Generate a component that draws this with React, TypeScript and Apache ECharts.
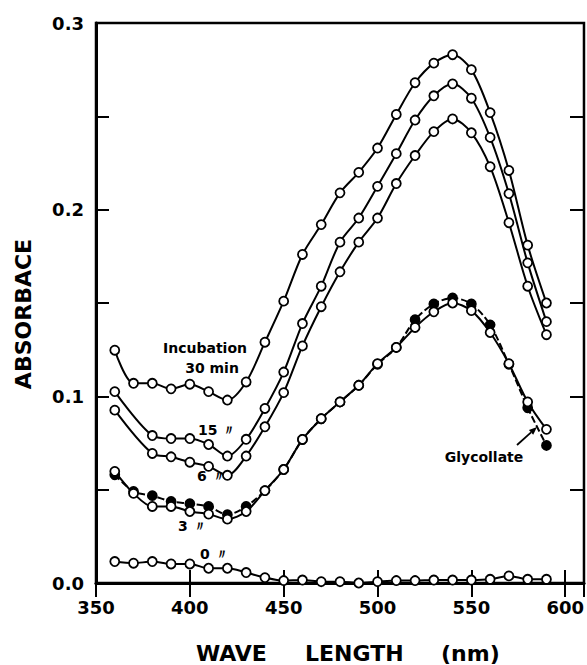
import React, { useEffect, useRef } from 'react';
import * as echarts from 'echarts';

const wavelengths = [360, 370, 380, 390, 400, 410, 420, 430, 440, 450, 460, 470, 480, 490, 500, 510, 520, 530, 540, 550, 560, 570, 580, 590];

const incubation30 = [0.1247, 0.107, 0.107, 0.104, 0.1065, 0.1025, 0.098, 0.1077, 0.129, 0.151, 0.176, 0.192, 0.209, 0.22, 0.233, 0.251, 0.268, 0.2785, 0.283, 0.275, 0.252, 0.221, 0.181, 0.15];
const incubation15 = [0.1025, null, 0.079, 0.0774, 0.0774, 0.0742, 0.068, 0.077, 0.0935, 0.113, 0.139, 0.159, 0.1826, 0.1955, 0.2125, 0.23, 0.248, 0.261, 0.2674, 0.2597, 0.2387, 0.2086, 0.1715, 0.14];
const incubation6 = [0.0926, null, 0.0694, 0.0676, 0.0647, 0.0625, 0.0577, 0.068, 0.0837, 0.102, 0.127, 0.148, 0.1667, 0.1826, 0.1955, 0.214, 0.229, 0.2418, 0.2486, 0.2412, 0.223, 0.193, 0.159, 0.133];
const incubation3 = [0.0598, 0.048, 0.041, 0.041, 0.0383, 0.0369, 0.0342, 0.0383, 0.0495, 0.0608, 0.0769, 0.088, 0.097, 0.1059, 0.1175, 0.1262, 0.1369, 0.1453, 0.15, 0.1459, 0.1342, 0.1175, 0.097, 0.0823];
const glycollate = [0.058, 0.049, 0.0468, 0.0437, 0.0425, 0.041, 0.0366, 0.041, 0.0495, 0.0608, 0.0769, 0.088, 0.097, 0.1059, 0.1172, 0.1262, 0.141, 0.1495, 0.1527, 0.1495, 0.1383, 0.1172, 0.0939, 0.0737];
const incubation0 = [0.0115, 0.0106, 0.0115, 0.0102, 0.0102, 0.0079, 0.0079, 0.0056, 0.0029, 0.0013, 0.0016, 0.0007, 0.0007, 0.0, 0.0007, 0.0013, 0.0013, 0.0016, 0.0016, 0.0016, 0.002, 0.0038, 0.002, 0.002];

const xTicks = { min: 350, max: 610, interval: 50 };
const yTicks = { min: 0, max: 0.3, interval: 0.05 };

const FONT = 'DejaVu Sans';

function toPairs(ys: (number | null)[]) {
  const out: number[][] = [];
  wavelengths.forEach((x, i) => {
    const y = ys[i];
    if (y !== null && y !== undefined) out.push([x, y]);
  });
  return out;
}

function lineSeries(name: string, ys: (number | null)[], filled: boolean, dashed: boolean, z: number) {
  return {
    type: 'line',
    name,
    data: toPairs(ys),
    smooth: 0.3,
    symbol: 'circle',
    symbolSize: 9,
    showSymbol: true,
    lineStyle: { color: '#000', width: 2, type: dashed ? [7, 3] : 'solid' },
    itemStyle: { color: filled ? '#000' : '#fff', borderColor: '#000', borderWidth: 1.8 },
    emphasis: { disabled: true },
    z,
  };
}

function label(text: string, x: number, y: number, size: number, align: string = 'left') {
  return {
    type: 'text',
    x,
    y,
    z: 50,
    style: {
      text,
      fill: '#000',
      fontSize: size,
      fontWeight: 'bold',
      fontFamily: FONT,
      align,
      verticalAlign: 'middle',
      textAlign: align,
      textVerticalAlign: 'middle',
    },
  };
}

export default function App() {
  const ref = useRef<HTMLDivElement>(null);

  useEffect(() => {
    if (!ref.current) return;
    const chart = echarts.init(ref.current, null, { renderer: 'svg' });

    const tip = [537, 427];
    const tail = [517, 445];
    const dx = tip[0] - tail[0];
    const dy = tip[1] - tail[1];
    const len = Math.sqrt(dx * dx + dy * dy);
    const ux = dx / len;
    const uy = dy / len;
    const bx = tip[0] - ux * 8;
    const by = tip[1] - uy * 8;
    const nx = -uy * 3.2;
    const ny = ux * 3.2;

    const yLabel = (v: number) => {
      const r = Math.round(v * 100);
      return r % 10 === 0 ? (r / 100).toFixed(1) : '';
    };

    chart.setOption({
      animation: false,
      backgroundColor: '#fff',
      grid: {
        left: 96,
        right: 3,
        top: 23,
        bottom: 82,
        show: true,
        borderColor: '#000',
        borderWidth: 2.5,
        backgroundColor: 'transparent',
      },
      xAxis: [
        {
          type: 'value',
          ...xTicks,
          position: 'bottom',
          axisLine: { show: true, lineStyle: { color: '#000', width: 3 } },
          axisTick: { show: true, inside: true, length: 13, lineStyle: { color: '#000', width: 2 } },
          axisLabel: {
            showMaxLabel: false,
            margin: 15,
            color: '#000',
            fontSize: 18,
            fontWeight: 'bold',
            fontFamily: FONT,
            formatter: (v: number) => (v % 50 === 0 ? String(v) : ''),
          },
          splitLine: { show: false },
        },
        {
          type: 'value',
          ...xTicks,
          position: 'top',
          axisLine: { show: true, lineStyle: { color: '#000', width: 2.5 } },
          axisTick: { show: true, inside: true, length: 14, lineStyle: { color: '#000', width: 2 } },
          axisLabel: { show: false },
          splitLine: { show: false },
        },
      ],
      yAxis: [
        {
          type: 'value',
          ...yTicks,
          position: 'left',
          axisLine: { show: true, lineStyle: { color: '#000', width: 3 } },
          axisTick: { show: true, inside: true, length: 13, lineStyle: { color: '#000', width: 2 } },
          axisLabel: {
            margin: 12,
            color: '#000',
            fontSize: 18,
            fontWeight: 'bold',
            fontFamily: FONT,
            formatter: yLabel,
          },
          splitLine: { show: false },
        },
        {
          type: 'value',
          ...yTicks,
          position: 'right',
          axisLine: { show: true, lineStyle: { color: '#000', width: 2 } },
          axisTick: { show: true, inside: true, length: 14, lineStyle: { color: '#000', width: 2 } },
          axisLabel: { show: false },
          splitLine: { show: false },
        },
      ],
      series: [
        lineSeries('Incubation 30 min', incubation30, false, false, 3),
        lineSeries('15 min', incubation15, false, false, 3),
        lineSeries('6 min', incubation6, false, false, 3),
        lineSeries('Glycollate', glycollate, true, true, 2),
        lineSeries('3 min', incubation3, false, false, 3),
        lineSeries('0 min', incubation0, false, false, 3),
      ],
      graphic: [
        label('Incubation', 205, 348, 14, 'center'),
        label('30 min', 212, 368, 14, 'center'),
        label('15 〃', 198, 430, 14),
        label('6 〃', 197, 476, 14),
        label('3 〃', 178, 526, 14),
        label('0 〃', 200, 554, 14),
        label('Glycollate', 484, 457, 14, 'center'),
        {
          type: 'line',
          z: 50,
          shape: { x1: tail[0], y1: tail[1], x2: bx, y2: by },
          style: { stroke: '#000', lineWidth: 1.8 },
        },
        {
          type: 'polygon',
          z: 50,
          shape: { points: [tip, [bx + nx, by + ny], [bx - nx, by - ny]] },
          style: { fill: '#000' },
        },
        {
          type: 'text',
          x: 23,
          y: 314,
          rotation: Math.PI / 2,
          z: 50,
          style: {
            text: 'ABSORBACE',
            fill: '#000',
            fontSize: 22,
            fontWeight: 'bold',
            fontFamily: FONT,
            align: 'center',
            verticalAlign: 'middle',
            textAlign: 'center',
            textVerticalAlign: 'middle',
          },
        },
        label('WAVE', 196, 653, 22),
        label('LENGTH', 305, 653, 22),
        label('(nm)', 441, 653, 22),
      ],
    });

    return () => chart.dispose();
  }, []);

  return (
    <div
      ref={ref}
      style={{ position: 'fixed', left: 0, top: 0, width: 587, height: 665, background: '#fff' }}
    />
  );
}
